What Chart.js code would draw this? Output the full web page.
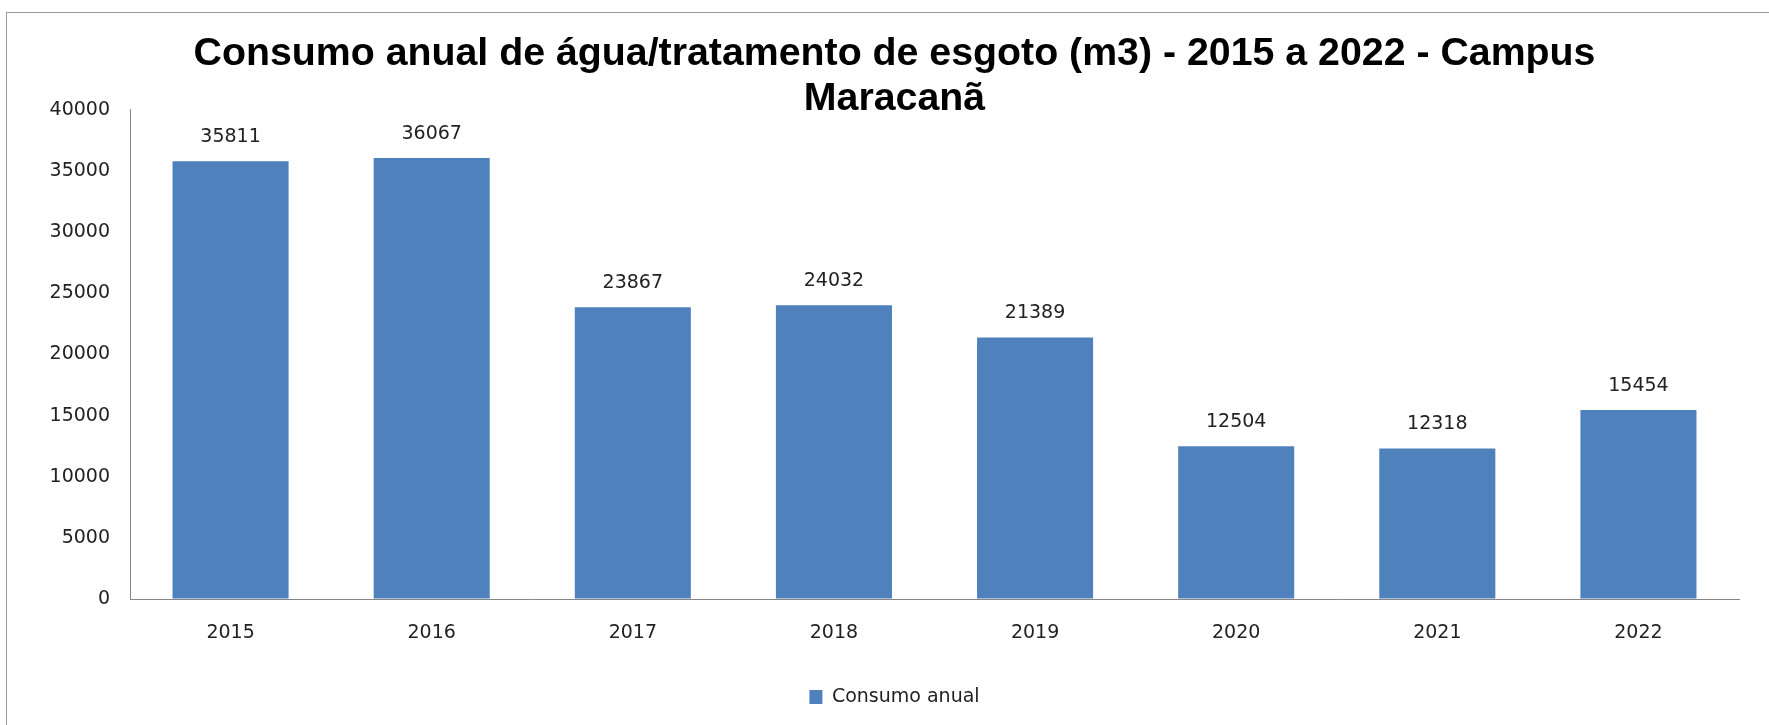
<!DOCTYPE html>
<html>
<head>
<meta charset="utf-8">
<script src="https://cdn.jsdelivr.net/npm/chart.js@4.4.1/dist/chart.umd.min.js"></script>
<style>
  html, body { margin: 0; padding: 0; background: #ffffff; }
  #wrap { width: 1769px; height: 725px; position: relative; }
</style>
</head>
<body>
<div id="wrap"><canvas id="c" width="1769" height="725"></canvas></div>
<script>
const categories = ['2015', '2016', '2017', '2018', '2019', '2020', '2021', '2022'];
const consumoAnual = [35811, 36067, 23867, 24032, 21389, 12504, 12318, 15454];
const seriesName = 'Consumo anual';
const titleLines = ['Consumo anual de água/tratamento de esgoto (m3) - 2015 a 2022 - Campus', 'Maracanã'];
const yMin = 0, yMax = 40000, yStep = 5000;

const BAR_COLOR = '#4F81BD';
const TEXT_COLOR = '#222222';
const AXIS_COLOR = '#868686';
const LABEL_FONT = { family: 'DejaVu Sans', size: 19 };

const framePlugin = {
  id: 'frame',
  beforeDraw(chart) {
    const ctx = chart.ctx;
    ctx.save();
    ctx.fillStyle = '#ffffff';
    ctx.fillRect(0, 0, chart.width, chart.height);
    ctx.strokeStyle = '#9a9a9a';
    ctx.lineWidth = 1;
    ctx.strokeRect(6.5, 12.5, chart.width + 40, chart.height + 40);
    ctx.restore();
  }
};

const valueLabels = {
  id: 'valueLabels',
  afterDatasetsDraw(chart) {
    const ctx = chart.ctx;
    ctx.save();
    ctx.font = LABEL_FONT.size + 'px "' + LABEL_FONT.family + '"';
    ctx.fillStyle = TEXT_COLOR;
    ctx.textAlign = 'center';
    ctx.textBaseline = 'middle';
    chart.data.datasets.forEach((ds, di) => {
      const meta = chart.getDatasetMeta(di);
      meta.data.forEach((el, i) => {
        ctx.fillText(String(ds.data[i]), el.x, el.y - 24);
      });
    });
    ctx.restore();
  }
};

new Chart(document.getElementById('c'), {
  type: 'bar',
  data: {
    labels: categories,
    datasets: [{
      label: seriesName,
      data: consumoAnual,
      backgroundColor: BAR_COLOR,
      borderWidth: 0,
      barPercentage: 0.577,
      categoryPercentage: 1.0
    }]
  },
  options: {
    responsive: false,
    animation: false,
    layout: { padding: { left: 50, right: 30, top: 0, bottom: 8.5 } },
    plugins: {
      title: {
        display: true,
        text: titleLines,
        color: '#000000',
        font: { family: 'Liberation Sans', size: 39.3, weight: 'bold', lineHeight: 1.16 },
        padding: { top: 31, bottom: -12.2 }
      },
      legend: {
        display: true,
        position: 'bottom',
        labels: {
          color: TEXT_COLOR,
          font: LABEL_FONT,
          boxWidth: 13,
          boxHeight: 14,
          padding: 10
        }
      },
      tooltip: { enabled: false }
    },
    scales: {
      x: {
        grid: { display: true, drawOnChartArea: false, drawTicks: false },
        border: { display: true, color: AXIS_COLOR, width: 1 },
        ticks: { color: TEXT_COLOR, font: LABEL_FONT, padding: 23, maxRotation: 0 },
        afterFit(scale) { scale.height = 78.5; }
      },
      y: {
        min: yMin,
        max: yMax,
        grid: { display: true, drawOnChartArea: false, drawTicks: false },
        border: { display: true, color: AXIS_COLOR, width: 1 },
        ticks: {
          stepSize: yStep,
          color: TEXT_COLOR,
          font: LABEL_FONT,
          padding: 20,
          callback: (v) => String(v)
        },
        afterFit(scale) { scale.width = 80; }
      }
    }
  },
  plugins: [framePlugin, valueLabels]
});
</script>
</body>
</html>
